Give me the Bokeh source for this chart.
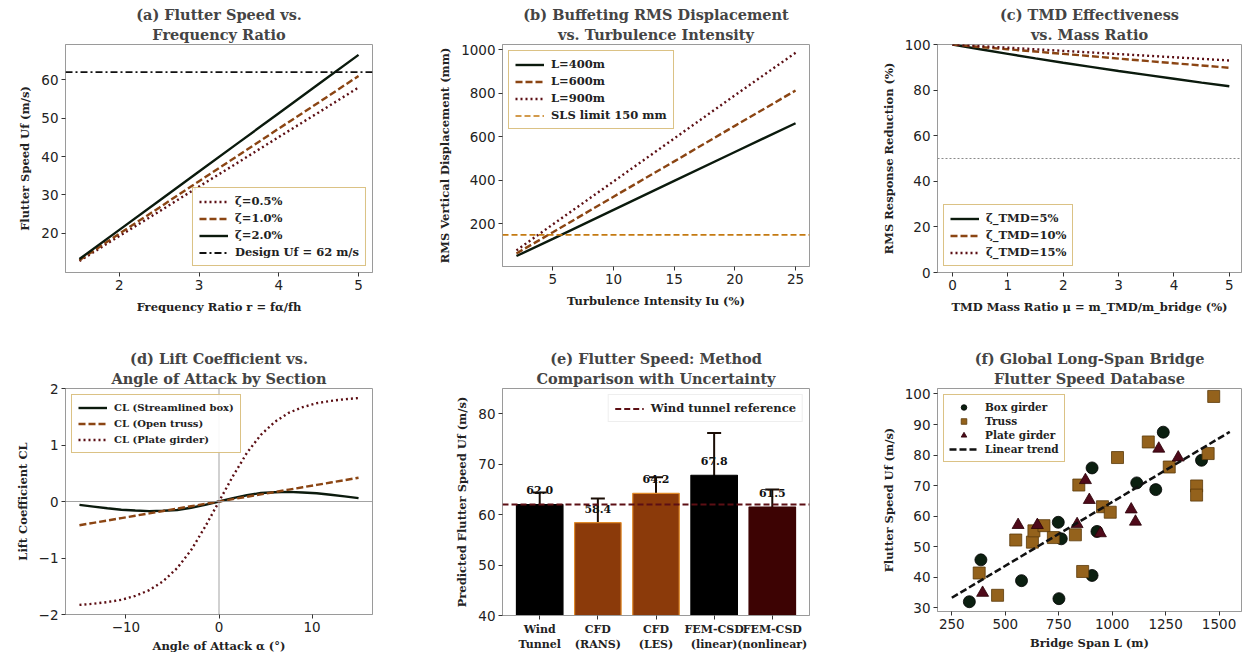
from bokeh.plotting import figure
from bokeh.layouts import gridplot
from bokeh.models import (Title, Legend, LegendItem, Span, Whisker, ColumnDataSource,
                          FixedTicker, Range1d, TeeHead)
from bokeh.embed import file_html
from bokeh.resources import INLINE
from bokeh.core.properties import value

NAN = float("nan")

# ---------------- data ----------------
# (a) flutter speed vs frequency ratio
freq_ratio = [1.5, 2.0, 2.5, 3.0, 3.5, 4.0, 4.5, 5.0]
uf_zeta05 = [12.8, 19.3, 25.7, 32.2, 38.6, 45.1, 51.5, 58.0]
uf_zeta10 = [13.0, 19.9, 26.7, 33.6, 40.4, 47.3, 54.1, 61.0]
uf_zeta20 = [13.3, 20.9, 28.5, 36.1, 43.7, 51.3, 58.9, 66.5]
design_uf = 62

# (b) buffeting RMS displacement
turb_intensity = [2, 5, 10, 15, 20, 25]
disp_L400 = [53, 132, 265, 398, 530, 662]
disp_L600 = [65, 162, 325, 487, 650, 812]
disp_L900 = [79, 198, 395, 592, 790, 985]
sls_limit = 150

# (c) TMD effectiveness
mass_ratio = [0, 0.5, 1.0, 1.5, 2.0, 2.5, 3.0, 3.5, 4.0, 4.5, 5.0]
red_tmd5 = [100, 97.9, 95.9, 93.9, 92.0, 90.2, 88.4, 86.7, 85.0, 83.3, 81.7]
red_tmd10 = [100, 98.9, 97.9, 96.9, 95.9, 94.9, 93.8, 92.8, 91.8, 90.8, 89.8]
red_tmd15 = [100, 99.3, 98.6, 97.9, 97.2, 96.5, 95.8, 95.1, 94.4, 93.7, 93.0]
tmd_threshold = 50

# (d) lift coefficient
alpha_deg = [-15, -13.5, -12, -10.5, -9, -7.5, -6, -4.5, -3, -1.5, 0,
             1.5, 3, 4.5, 6, 7.5, 9, 10.5, 12, 13.5, 15]
cl_box = [-0.06, -0.09, -0.12, -0.145, -0.16, -0.17, -0.165, -0.15, -0.11, -0.06, 0.0,
          0.06, 0.11, 0.15, 0.165, 0.17, 0.16, 0.145, 0.12, 0.09, 0.06]
cl_truss = [-0.42, -0.378, -0.336, -0.294, -0.252, -0.21, -0.168, -0.126, -0.084, -0.042, 0.0,
            0.042, 0.084, 0.126, 0.168, 0.21, 0.252, 0.294, 0.336, 0.378, 0.42]
cl_plate = [-1.83, -1.81, -1.78, -1.74, -1.67, -1.57, -1.41, -1.18, -0.86, -0.45, 0.0,
            0.45, 0.86, 1.18, 1.41, 1.57, 1.67, 1.74, 1.78, 1.81, 1.83]

# (e) method comparison
methods = ["Wind\nTunnel", "CFD\n(RANS)", "CFD\n(LES)", "FEM-CSD\n(linear)", "FEM-CSD\n(nonlinear)"]
flutter_pred = [62.0, 58.4, 64.2, 67.8, 61.5]
flutter_err = [2.4, 4.8, 3.2, 8.4, 3.5]
wind_tunnel_ref = 62.0

# (f) database
box_span = [332, 386, 576, 751, 748, 762, 906, 906, 929, 1115, 1204, 1239, 1418]
box_uf = [32.0, 45.7, 38.9, 33.0, 58.0, 52.6, 75.8, 40.6, 55.0, 70.9, 68.7, 87.5, 78.3]
truss_span = [378, 464, 549, 627, 634, 681, 725, 828, 844, 862, 955, 991, 1025, 1169,
              1267, 1395, 1395, 1449, 1475]
truss_uf = [41.4, 34.1, 52.2, 51.5, 55.2, 56.9, 53.0, 53.9, 70.2, 41.9, 63.1, 61.3, 79.2, 84.3,
            76.1, 69.9, 66.9, 80.5, 99.2]
plate_span = [394, 560, 650, 836, 875, 893, 945, 1089, 1109, 1218, 1309]
plate_uf = [34.9, 57.1, 57.1, 57.4, 71.8, 65.3, 54.4, 62.2, 58.2, 82.1, 79.2]
trend_span = [250, 1550]
trend_uf = [33.3, 87.6]

# ---------------- style ----------------
SERIF = "DejaVu Serif"
SANS = "DejaVu Sans"
DARK = "#0b1a0d"
BROWN = "#8B4513"
MAROON = "#5c0f14"
GOLD = "#b8860b"
SPINE = "#9a9a9a"


def make_fig(t1, t2, xlabel, ylabel, xr, yr, xticks, yticks, fw, fh, left, right, top, bottom,
             xstand=7):
    p = figure(frame_width=fw, frame_height=fh, x_range=Range1d(*xr), y_range=Range1d(*yr),
               output_backend="svg", toolbar_location=None,
               min_border_left=left, min_border_right=right,
               min_border_top=top, min_border_bottom=bottom)
    p.title.text = t1
    p.title.align = "center"
    p.title.text_font = SERIF
    p.title.text_font_style = "bold"
    p.title.text_font_size = "14.5px"
    p.title.text_line_height = 0.8
    p.title.standoff = 0
    p.title.offset = 0
    t = Title(text=t2, align="center", text_font=SERIF, text_font_style="bold",
              text_font_size="14.5px", text_line_height=0.8, standoff=3)
    p.add_layout(t, "above")
    p.xgrid.visible = False
    p.ygrid.visible = False
    p.outline_line_color = SPINE
    p.outline_line_width = 1
    p.background_fill_color = "white"
    p.border_fill_color = "white"
    p.xaxis.ticker = FixedTicker(ticks=xticks)
    p.yaxis.ticker = FixedTicker(ticks=yticks)
    p.xaxis.axis_label = xlabel
    p.yaxis.axis_label = ylabel
    for ax in (p.xaxis[0], p.yaxis[0]):
        ax.major_label_text_font = SANS
        ax.major_label_text_font_size = "13.5px"
        ax.major_label_text_color = "#222222"
        ax.axis_label_text_font = SERIF
        ax.axis_label_text_font_style = "bold"
        ax.axis_label_text_font_size = "11.5px"
        ax.axis_label_text_color = "#222222"
        ax.minor_tick_line_color = None
        ax.major_tick_out = 4
        ax.major_tick_in = 0
        ax.major_tick_line_color = "#333333"
        ax.axis_line_color = SPINE
        ax.major_label_standoff = 3
    p.xaxis.axis_label_standoff = xstand
    p.yaxis.axis_label_standoff = 6
    return p


def style_legend(leg):
    leg.border_line_color = GOLD
    leg.border_line_width = 1.5
    leg.background_fill_alpha = 0.9
    leg.label_text_font = SERIF
    leg.label_text_font_style = "bold"
    leg.label_text_font_size = "11.5px"
    leg.label_text_color = "#222222"
    leg.glyph_width = 29
    leg.glyph_height = 13
    leg.label_height = 14
    leg.spacing = 3
    leg.padding = 6
    leg.margin = 6
    leg.label_standoff = 7


# ---------------- (a) ----------------
pa = make_fig("(a) Flutter Speed vs.", "Frequency Ratio",
              "Frequency Ratio r = fα/fh", "Flutter Speed Uf (m/s)",
              (1.325, 5.175), (9.8, 69.2), [2, 3, 4, 5], [20, 30, 40, 50, 60],
              307, 228, 65, 59, 38, 56)
ra1 = pa.line(freq_ratio, uf_zeta05, line_color=MAROON, line_width=2.4, line_dash="2 3")
ra2 = pa.line(freq_ratio, uf_zeta10, line_color=BROWN, line_width=2.4, line_dash="7 3")
ra3 = pa.line(freq_ratio, uf_zeta20, line_color=DARK, line_width=2.4)
pa.add_layout(Span(location=design_uf, dimension="width", line_color="#111111",
                   line_width=1.8, line_dash="7 3 2 3"))
ra4 = pa.line([freq_ratio[0]], [NAN], line_color="#111111", line_width=1.8,
              line_dash="7 3 2 3")
leg_a = Legend(items=[LegendItem(label="ζ=0.5%", renderers=[ra1]),
                      LegendItem(label="ζ=1.0%", renderers=[ra2]),
                      LegendItem(label="ζ=2.0%", renderers=[ra3]),
                      LegendItem(label="Design Uf = 62 m/s", renderers=[ra4])],
               location="bottom_right")
style_legend(leg_a)
pa.add_layout(leg_a)

# ---------------- (b) ----------------
pb = make_fig("(b) Buffeting RMS Displacement", "vs. Turbulence Intensity",
              "Turbulence Intensity Iu (%)", "RMS Vertical Displacement (mm)",
              (0.85, 26.15), (5, 1023), [5, 10, 15, 20, 25], [200, 400, 600, 800, 1000],
              307, 222, 71, 44, 44, 56)
rb1 = pb.line(turb_intensity, disp_L400, line_color=DARK, line_width=2.4)
rb2 = pb.line(turb_intensity, disp_L600, line_color=BROWN, line_width=2.4, line_dash="7 3")
rb3 = pb.line(turb_intensity, disp_L900, line_color=MAROON, line_width=2.4, line_dash="2 3")
pb.add_layout(Span(location=sls_limit, dimension="width", line_color="#c47a12",
                   line_width=1.6, line_dash="6 3"))
rb4 = pb.line([turb_intensity[0]], [NAN], line_color="#c47a12", line_width=1.6,
              line_dash="6 3")
leg_b = Legend(items=[LegendItem(label="L=400m", renderers=[rb1]),
                      LegendItem(label="L=600m", renderers=[rb2]),
                      LegendItem(label="L=900m", renderers=[rb3]),
                      LegendItem(label="SLS limit 150 mm", renderers=[rb4])],
               location="top_left")
style_legend(leg_b)
pb.add_layout(leg_b)

# ---------------- (c) ----------------
pc = make_fig("(c) TMD Effectiveness", "vs. Mass Ratio",
              "TMD Mass Ratio μ = m_TMD/m_bridge (%)", "RMS Response Reduction (%)",
              (-0.27, 5.22), (0, 100), [0, 1, 2, 3, 4, 5], [0, 20, 40, 60, 80, 100],
              304, 228, 84, 1, 38, 56)
pc.add_layout(Span(location=tmd_threshold, dimension="width", line_color="#8a8a8a",
                   line_width=1.2, line_dash="2 2"))
rc1 = pc.line(mass_ratio, red_tmd5, line_color=DARK, line_width=2.4)
rc2 = pc.line(mass_ratio, red_tmd10, line_color=BROWN, line_width=2.4, line_dash="7 3")
rc3 = pc.line(mass_ratio, red_tmd15, line_color=MAROON, line_width=2.4, line_dash="2 3")
leg_c = Legend(items=[LegendItem(label="ζ_TMD=5%", renderers=[rc1]),
                      LegendItem(label="ζ_TMD=10%", renderers=[rc2]),
                      LegendItem(label="ζ_TMD=15%", renderers=[rc3])],
               location="bottom_left")
style_legend(leg_c)
pc.add_layout(leg_c)

# ---------------- (d) ----------------
pd_ = make_fig("(d) Lift Coefficient vs.", "Angle of Attack by Section",
               "Angle of Attack α (°)", "Lift Coefficient CL",
               (-16.5, 16.5), (-2, 2), [-10, 0, 10], [-2, -1, 0, 1, 2],
               307, 226, 65, 59, 61, 40, xstand=4)
pd_.add_layout(Span(location=0, dimension="width", line_color="#999999", line_width=0.9))
pd_.add_layout(Span(location=0, dimension="height", line_color="#999999", line_width=0.9))
rd1 = pd_.line(alpha_deg, cl_box, line_color=DARK, line_width=2.4)
rd2 = pd_.line(alpha_deg, cl_truss, line_color=BROWN, line_width=2.4, line_dash="7 3")
rd3 = pd_.line(alpha_deg, cl_plate, line_color=MAROON, line_width=2.4, line_dash="2 3")
leg_d = Legend(items=[LegendItem(label="CL (Streamlined box)", renderers=[rd1]),
                      LegendItem(label="CL (Open truss)", renderers=[rd2]),
                      LegendItem(label="CL (Plate girder)", renderers=[rd3])],
               location="top_left")
style_legend(leg_d)
leg_d.label_text_font_size = "10px"
leg_d.label_height = 13
leg_d.spacing = 3
pd_.add_layout(leg_d)

# ---------------- (e) ----------------
xs = list(range(len(methods)))
bar_fill = ["#000000", "#8B3A0A", "#8B3A0A", "#000000", "#3d0303"]
bar_edge = ["#000000", "#e08a2a", "#e08a2a", "#000000", "#3d0303"]
src_e = ColumnDataSource(dict(
    x=xs, top=flutter_pred, fill=bar_fill, edge=bar_edge,
    upper=[v + e for v, e in zip(flutter_pred, flutter_err)],
    lower=[v - e for v, e in zip(flutter_pred, flutter_err)],
    label_y=[v + 2 for v in flutter_pred],
    label=["%.1f" % v for v in flutter_pred]))
pe = make_fig("(e) Flutter Speed: Method", "Comparison with Uncertainty",
              "", "Predicted Flutter Speed Uf (m/s)",
              (-0.64, 4.64), (40, 85), xs, [40, 50, 60, 70, 80],
              307, 227, 71, 44, 60, 40)
pe.xaxis.axis_label = None
pe.xaxis.major_label_overrides = {i: m for i, m in zip(xs, methods)}
pe.xaxis.major_label_text_font = SERIF
pe.xaxis.major_label_text_font_style = "bold"
pe.xaxis.major_label_text_font_size = "11px"
pe.vbar(x="x", top="top", bottom=40, width=0.8, fill_color="fill", line_color="edge",
        line_width=1.2, source=src_e)
pe.add_layout(Whisker(base="x", upper="upper", lower="lower", source=src_e,
                      line_color="#1a0d05", line_width=2,
                      upper_head=TeeHead(size=14, line_color="#1a0d05", line_width=2),
                      lower_head=TeeHead(size=14, line_color="#1a0d05", line_width=2)))
pe.text(x="x", y="label_y", text="label", source=src_e, text_align="center",
        text_baseline="bottom", text_font=value(SERIF), text_font_style="bold",
        text_font_size="11px", text_color="#111111")
pe.add_layout(Span(location=wind_tunnel_ref, dimension="width", line_color="#5c0f14",
                   line_width=1.8, line_dash="6 3"))
re1 = pe.line([xs[0]], [NAN], line_color="#5c0f14", line_width=1.8, line_dash="6 3")
leg_e = Legend(items=[LegendItem(label="Wind tunnel reference", renderers=[re1])],
               location="top_right")
style_legend(leg_e)
leg_e.border_line_color = "#dddddd"
leg_e.border_line_width = 1
pe.add_layout(leg_e)

# ---------------- (f) ----------------
pf = make_fig("(f) Global Long-Span Bridge", "Flutter Speed Database",
              "Bridge Span L (m)", "Flutter Speed Uf (m/s)",
              (183, 1605), (28.8, 101.8), [250, 500, 750, 1000, 1250, 1500],
              [30, 40, 50, 60, 70, 80, 90, 100],
              304, 223, 84, 1, 63, 40, xstand=4)
rf1 = pf.scatter(box_span, box_uf, marker="circle", size=12, fill_color="#0b1f10",
                 line_color="#000000", line_width=0.8)
rf2 = pf.scatter(truss_span, truss_uf, marker="square", size=12, fill_color="#94621c",
                 line_color="#5a3a0a", line_width=0.8)
rf3 = pf.scatter(plate_span, plate_uf, marker="triangle", size=12, fill_color="#4f0a1a",
                 line_color="#2a0008", line_width=0.8)
rf4 = pf.line(trend_span, trend_uf, line_color="#111111", line_width=2.6, line_dash="7 3")
leg_f = Legend(items=[LegendItem(label="Box girder", renderers=[rf1]),
                      LegendItem(label="Truss", renderers=[rf2]),
                      LegendItem(label="Plate girder", renderers=[rf3]),
                      LegendItem(label="Linear trend", renderers=[rf4])],
               location="top_left")
style_legend(leg_f)
leg_f.label_text_font_size = "10.5px"
leg_f.label_height = 14
leg_f.glyph_height = 14
leg_f.spacing = 0
leg_f.padding = 5
pf.add_layout(leg_f)

grid = gridplot([[pa, pb, pc], [pd_, pe, pf]], toolbar_location=None)
open("out.html", "w").write(file_html(grid, INLINE))
